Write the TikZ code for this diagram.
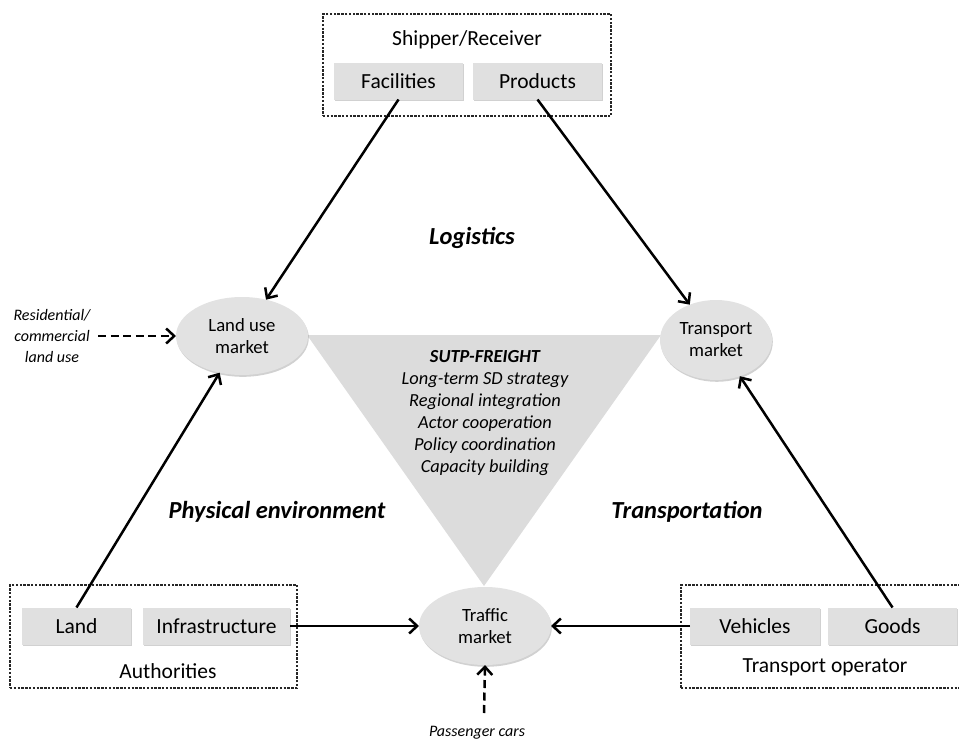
\documentclass[tikz,border=0pt]{standalone}
\usepackage{fontspec}
\setmainfont{Carlito}
\usetikzlibrary{shapes.geometric,arrows.meta,shadows}
\definecolor{boxgray}{HTML}{E0E0E0}
\definecolor{ellgray}{HTML}{E2E2E2}
\definecolor{trigray}{HTML}{DCDCDC}
\begin{document}
\begin{tikzpicture}[x=1pt,y=-1pt,
  every node/.style={inner sep=0pt,outer sep=0pt},
  softshadow/.style={drop shadow={shadow xshift=0.8pt,shadow yshift=-1.8pt,opacity=0.3,fill=black!60}},
  greybox/.style={fill=boxgray,minimum height=37pt,font=\fontsize{21.5}{24}\selectfont,softshadow},
  market/.style={ellipse,fill=ellgray,minimum width=132pt,minimum height=78pt,align=center,
    font=\fontsize{18.7}{22}\selectfont,softshadow},
  dbox/.style={draw=black!85,line width=1.1pt,dash pattern=on 2.4pt off 1.4pt},
  grouplabel/.style={font=\fontsize{21.5}{24}\selectfont},
  theme/.style={font=\fontsize{24.5}{28}\selectfont\bfseries\itshape},
  note/.style={font=\fontsize{16}{21}\selectfont\itshape,align=center},
  conn/.style={line width=2.5pt,-{Straight Barb[length=8pt,width=15pt]}},
  dconn/.style={conn,dash pattern=on 8pt off 4.5pt}]
\useasboundingbox (0,0) rectangle (959,744);

% triangle
\fill[trigray] (307,335) -- (661,335) -- (484,586) -- cycle;
\node[align=center,font=\fontsize{18.4}{22}\selectfont\itshape] (sutp) at (485,413)
  {\textbf{SUTP-FREIGHT}\\Long-term SD strategy\\Regional integration\\Actor cooperation\\Policy coordination\\Capacity building};

% top group
\node[dbox,minimum width=288pt,minimum height=102pt] (shipbox) at (467,65) {};
\node[grouplabel] (shiplab) at (467,40) {Shipper/Receiver};
\node[greybox,minimum width=129pt] (fac) at (398.5,81) {Facilities};
\node[greybox,minimum width=129pt] (prod) at (537.5,81) {Products};

% bottom-left group
\node[dbox,minimum width=287pt,minimum height=103pt] (authbox) at (153.5,636.5) {};
\node[greybox,minimum width=109pt] (landb) at (76.5,626) {Land};
\node[greybox,minimum width=147pt] (infra) at (216.5,626) {Infrastructure};
\node[grouplabel] (authlab) at (168,671) {Authorities};

% bottom-right group
\node[dbox,minimum width=284pt,minimum height=103pt] (opbox) at (823,636.5) {};
\node[greybox,minimum width=130pt] (veh) at (755,626) {Vehicles};
\node[greybox,minimum width=129pt] (goods) at (892.5,626) {Goods};
\node[grouplabel] (oplab) at (825,667) {Transport operator};

% markets
\node[market] (land) at (242,336) {Land use\\market};
\node[market,minimum width=112pt,minimum height=80pt] (trans) at (716,340) {Transport\\market};
\node[market] (traffic) at (485,626) {Traffic\\market};

% themes
\node[theme] (logi) at (472,238) {Logistics};
\node[theme] (phys) at (277,512) {Physical environment};
\node[theme] (transp) at (687,512) {Transportation};

% notes
\node[note] (res) at (52,336) {Residential/\\commercial\\land use};
\node[note] (pc) at (477,733) {Passenger cars};
\coordinate (pcstart) at (484,713);

% connectors
\draw[conn] (fac.south) -- (land);
\draw[conn] (prod.south) -- (trans);
\draw[conn] (landb.north) -- (land);
\draw[conn] (goods.north) -- (trans);
\draw[conn] (infra.east) -- (traffic.west);
\draw[conn] (veh.west) -- (traffic.east);
\draw[dconn,shorten <=8pt] (res.east) -- (land.west);
\draw[dconn] (pcstart) -- (traffic.south);
\end{tikzpicture}
\end{document}
